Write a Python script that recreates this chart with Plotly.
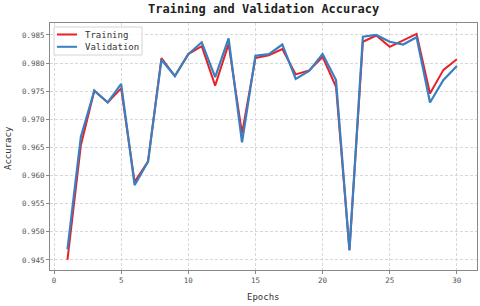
import plotly.graph_objects as go

epochs = list(range(1, 31))
training = [0.9450, 0.9654, 0.9751, 0.9730, 0.9755, 0.9589, 0.9625, 0.9809, 0.9777, 0.9816,
            0.9830, 0.9760, 0.9834, 0.9675, 0.9809, 0.9814, 0.9825, 0.9780, 0.9787, 0.9811,
            0.9758, 0.9468, 0.9838, 0.9849, 0.9829, 0.9841, 0.9852, 0.9746, 0.9788, 0.9807]
validation = [0.9469, 0.9669, 0.9751, 0.9730, 0.9763, 0.9583, 0.9625, 0.9806, 0.9777, 0.9816,
              0.9837, 0.9775, 0.9844, 0.9659, 0.9813, 0.9816, 0.9833, 0.9772, 0.9786, 0.9816,
              0.9770, 0.9467, 0.9847, 0.9850, 0.9838, 0.9833, 0.9846, 0.9730, 0.9770, 0.9795]
series_names = ["Training", "Validation"]
series_colors = ["#e8202a", "#3a7fc0"]
y_ticks = [0.945, 0.950, 0.955, 0.960, 0.965, 0.970, 0.975, 0.980, 0.985]
y_tick_labels = ["0.945", "0.950", "0.955", "0.960", "0.965", "0.970", "0.975", "0.980", "0.985"]
x_ticks = [0, 5, 10, 15, 20, 25, 30]

mono = "DejaVu Sans Mono"
W, H = 480, 306
L, R, T, B = 50, 3, 23, 36
pw, ph = W - L - R, H - T - B

fig = go.Figure()
fig.add_trace(go.Scatter(x=epochs, y=training, mode="lines", name=series_names[0],
                         line=dict(color=series_colors[0], width=2), showlegend=False))
fig.add_trace(go.Scatter(x=epochs, y=validation, mode="lines", name=series_names[1],
                         line=dict(color=series_colors[1], width=2.2), showlegend=False))

def px_x(p):
    return (p - L) / pw

def px_y(p):
    return 1 - (p - T) / ph

shapes = [dict(type="rect", xref="paper", yref="paper",
               x0=px_x(54), x1=px_x(142), y0=px_y(55), y1=px_y(27),
               line=dict(color="#d4d4d4", width=1), fillcolor="rgba(255,255,255,0.85)",
               layer="above")]
annotations = []
for i, (nm, col) in enumerate(zip(series_names, series_colors)):
    yy = 34.5 + 12.3 * i
    shapes.append(dict(type="line", xref="paper", yref="paper",
                       x0=px_x(57), x1=px_x(77), y0=px_y(yy), y1=px_y(yy),
                       line=dict(color=col, width=2), layer="above"))
    annotations.append(dict(text=nm, xref="paper", yref="paper", x=px_x(83), y=px_y(yy),
                            xanchor="left", yanchor="middle", showarrow=False,
                            font=dict(family=mono, size=9, color="#333")))

annotations.append(dict(text="Epochs", xref="paper", yref="paper", x=px_x(263), y=px_y(297),
                        xanchor="center", yanchor="middle", showarrow=False,
                        font=dict(family=mono, size=9, color="#333")))
annotations.append(dict(text="Accuracy", xref="paper", yref="paper", x=px_x(8), y=px_y(148),
                        xanchor="center", yanchor="middle", showarrow=False, textangle=-90,
                        font=dict(family=mono, size=9, color="#333")))
annotations.append(dict(text="<b>Training and Validation Accuracy</b>", xref="paper", yref="paper",
                        x=px_x(263), y=px_y(9), xanchor="center", yanchor="middle", showarrow=False,
                        font=dict(family=mono, size=12, color="#222")))

fig.update_layout(
    width=W, height=H,
    margin=dict(l=L, r=R, t=T, b=B, autoexpand=False),
    paper_bgcolor="white", plot_bgcolor="white",
    font=dict(family=mono, size=8, color="#444"),
    shapes=shapes, annotations=annotations,
    showlegend=False,
)
fig.update_xaxes(range=[-0.3, 31.5], tickvals=x_ticks, automargin=False,
                 showgrid=True, gridcolor="#d8d8d8", griddash="3px,2px", gridwidth=0.8,
                 showline=True, linecolor="#888", linewidth=1, mirror=True,
                 ticks="outside", ticklen=3, tickcolor="#888", zeroline=False,
                 tickfont=dict(family=mono, size=7.5, color="#555"))
fig.update_yaxes(range=[0.94322, 0.98713], tickvals=y_ticks, ticktext=y_tick_labels, automargin=False,
                 showgrid=True, gridcolor="#d8d8d8", griddash="3px,2px", gridwidth=0.8,
                 showline=True, linecolor="#888", linewidth=1, mirror=True,
                 ticks="outside", ticklen=3, tickcolor="#888", zeroline=False,
                 tickfont=dict(family=mono, size=7.5, color="#555"))

fig.write_html("out.html", config={"displayModeBar": False},
               post_script="document.body.style.margin='0';")
